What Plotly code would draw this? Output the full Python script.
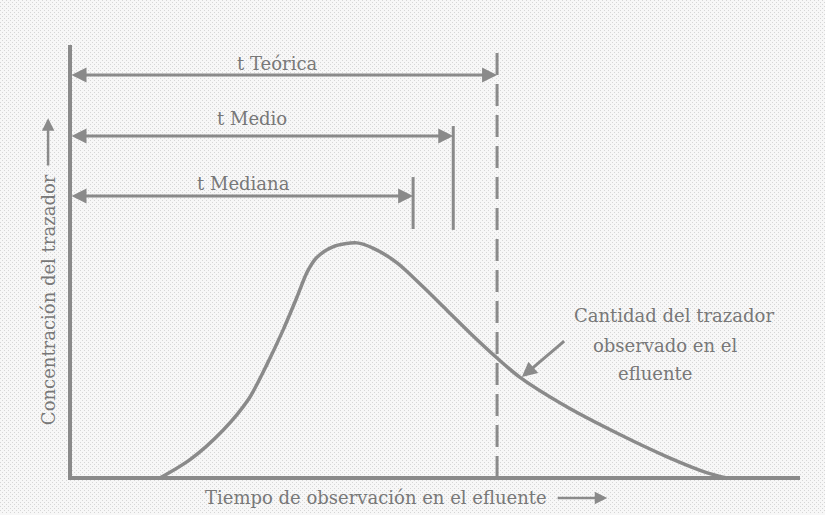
import plotly.graph_objects as go

# ---- data (time units on x, concentration units on y) ----
curve_t = [12.3, 16.4, 21.0, 24.5, 27.0, 29.2, 31.1, 32.5, 33.8, 36.0, 39.3, 41.5, 44.8, 48.4, 51.6, 54.8,
           58.5, 61.6, 68.1, 74.9, 81.8, 87.3, 90.0]
curve_c = [0.0, 4.2, 11.1, 18.3, 26.3, 34.2, 41.8, 47.6, 50.9, 53.4, 54.3, 53.1, 49.7, 44.1, 38.8, 33.5,
           27.7, 23.3, 16.4, 10.4, 4.9, 1.2, 0.0]

t_names = ["t Teórica", "t Medio", "t Mediana"]
t_values = [58.5, 52.5, 47.0]
t_levels = [93.1, 79.0, 65.1]          # height of each dimension arrow
t_label_x = [28.4, 24.9, 23.8]
t_label_y = [95.8, 83.1, 68.1]
marker_top = [98.4, 81.3, 69.5]
marker_bottom = [0.0, 57.3, 57.5]

axis_x_max = 100.0
axis_y_max = 100.0

x_title = "Tiempo de observación en el efluente"
y_title = "Concentración del trazador"
note_lines = ["Cantidad del trazador", "observado en el", "efluente"]
note_x = [82.7, 81.5, 80.1]
note_y = [37.6, 30.7, 24.2]
note_arrow_tail = (67.9, 31.9)
note_arrow_head = (61.9, 23.3)

GRAY = "#8a8a8a"
TEXT = "#787878"
FONT = "DejaVu Serif"
FS = 18

fig = go.Figure()

# axes lines
fig.add_trace(go.Scatter(x=[0, 0, axis_x_max], y=[axis_y_max, 0, 0], mode="lines",
                         line=dict(color=GRAY, width=4), hoverinfo="skip", showlegend=False))

# curve
fig.add_trace(go.Scatter(x=curve_t, y=curve_c, mode="lines",
                         line=dict(color=GRAY, width=3.5, shape="spline", smoothing=0.8),
                         showlegend=False))

# theoretical time dashed line
fig.add_trace(go.Scatter(x=[t_values[0], t_values[0]], y=[marker_bottom[0], marker_top[0]], mode="lines",
                         line=dict(color=GRAY, width=3, dash="22px,9px"), showlegend=False))
# medio / mediana markers
for i in (1, 2):
    fig.add_trace(go.Scatter(x=[t_values[i], t_values[i]], y=[marker_bottom[i], marker_top[i]], mode="lines",
                             line=dict(color=GRAY, width=3), showlegend=False))

annotations = []
for name, tv, lv, lx, ly in zip(t_names, t_values, t_levels, t_label_x, t_label_y):
    annotations.append(dict(x=tv, y=lv, ax=0, ay=lv, xref="x", yref="y", axref="x", ayref="y",
                            text="", showarrow=True, arrowhead=2, startarrowhead=2, arrowside="end+start",
                            arrowsize=1.0, startarrowsize=1.0, arrowwidth=3, arrowcolor=GRAY))
    annotations.append(dict(x=lx, y=ly, xref="x", yref="y", text=name, showarrow=False,
                            font=dict(family=FONT, size=FS, color=TEXT), yanchor="middle"))

# note
for line, nx, ny in zip(note_lines, note_x, note_y):
    annotations.append(dict(x=nx, y=ny, xref="x", yref="y", text=line,
                            showarrow=False, font=dict(family=FONT, size=FS, color=TEXT), yanchor="middle"))
annotations.append(dict(x=note_arrow_head[0], y=note_arrow_head[1], ax=note_arrow_tail[0], ay=note_arrow_tail[1],
                        xref="x", yref="y", axref="x", ayref="y", text="", showarrow=True, arrowhead=2,
                        arrowsize=1.0, arrowwidth=3, arrowcolor=GRAY))

# axis titles
annotations.append(dict(x=41.9, y=-4.4, xref="x", yref="y", text=x_title, showarrow=False,
                        font=dict(family=FONT, size=FS, color=TEXT), yanchor="middle"))
annotations.append(dict(x=73.6, y=-4.6, ax=66.6, ay=-4.6, xref="x", yref="y", axref="x", ayref="y",
                        text="", showarrow=True, arrowhead=2, arrowsize=1.0, arrowwidth=2.5, arrowcolor=GRAY))
annotations.append(dict(x=-3.0, y=41.1, xref="x", yref="y", text=y_title, textangle=-90, showarrow=False,
                        font=dict(family=FONT, size=FS, color=TEXT), xanchor="center"))
annotations.append(dict(x=-3.0, y=83.1, ax=-3.0, ay=71.8, xref="x", yref="y", axref="x", ayref="y",
                        text="", showarrow=True, arrowhead=2, arrowsize=1.0, arrowwidth=2.5, arrowcolor=GRAY))

fig.update_layout(
    width=825, height=515, autosize=False,
    margin=dict(l=0, r=0, t=0, b=0),
    paper_bgcolor="#f7f7f7", plot_bgcolor="#f7f7f7",
    annotations=annotations, showlegend=False,
    xaxis=dict(range=[-70 / 7.3, 755 / 7.3], showticklabels=False, zeroline=False, showline=False,
               showgrid=True, gridcolor="#d6d6d6", griddash="1px,3px", gridwidth=1, tick0=0, dtick=4 / 7.3,
               fixedrange=True),
    yaxis=dict(range=[-37 / 4.33, 478 / 4.33], showticklabels=False, zeroline=False, showline=False,
               showgrid=True, gridcolor="#d6d6d6", griddash="1px,3px", gridwidth=1, tick0=0, dtick=4 / 4.33,
               fixedrange=True),
)

fig.write_html("out.html", config={"displayModeBar": False},
               post_script="document.body.style.margin='0px';document.body.style.background='#f7f7f7';")
